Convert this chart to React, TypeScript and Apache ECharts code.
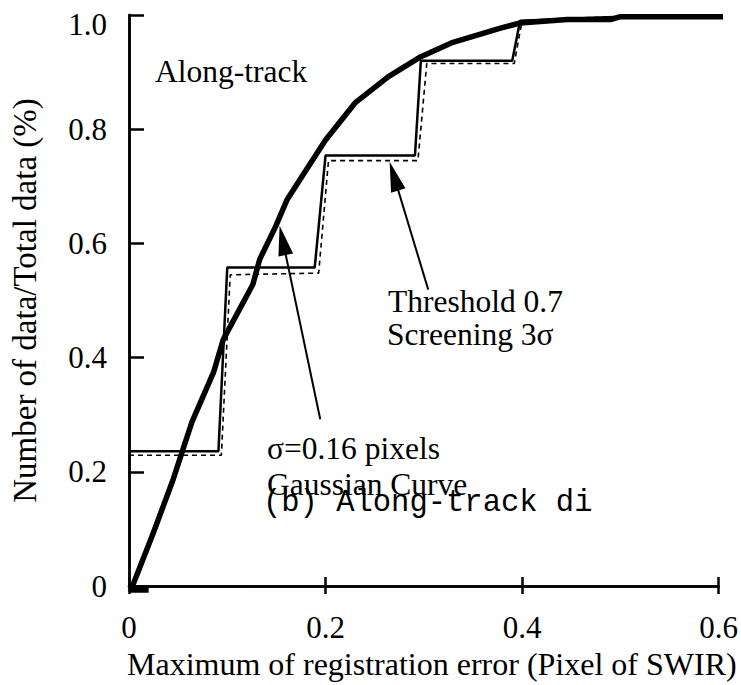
import React, { useEffect, useRef } from "react";
import * as echarts from "echarts";

const xTickLabels = ["0", "0.2", "0.4", "0.6"];
const yTickLabels = ["0", "0.2", "0.4", "0.6", "0.8", "1.0"];

// Thick Gaussian curve
const gaussX = [0.02, 0.002, 0.025, 0.045, 0.064, 0.086, 0.096, 0.126, 0.133, 0.149, 0.161, 0.176, 0.2, 0.23, 0.264, 0.297, 0.328, 0.378, 0.398, 0.446, 0.49, 0.5, 0.613];
const gaussY = [-0.007, -0.007, 0.094, 0.187, 0.287, 0.374, 0.432, 0.528, 0.572, 0.629, 0.677, 0.717, 0.781, 0.846, 0.892, 0.927, 0.951, 0.977, 0.986, 0.992, 0.992, 0.997, 0.997];

// Solid step (Threshold 0.7, Screening 3 sigma)
const stepX = [0, 0.091, 0.1, 0.189, 0.2, 0.291, 0.297, 0.39, 0.398, 0.5, 0.6];
const stepY = [0.236, 0.236, 0.558, 0.558, 0.754, 0.754, 0.92, 0.92, 0.99, 0.997, 0.997];

// Dashed step
const dashX = [0, 0.094, 0.103, 0.193, 0.203, 0.294, 0.303, 0.392, 0.4, 0.49, 0.613];
const dashY = [0.229, 0.229, 0.545, 0.548, 0.745, 0.745, 0.915, 0.915, 0.99, 0.997, 0.997];

// Annotation arrows: [tail, head]
const arrowSigma = [[0.1946, 0.292], [0.1564, 0.6054]];
const arrowThreshold = [[0.3045, 0.519], [0.2696, 0.7178]];

const SERIF = "'Liberation Serif', 'Times New Roman', serif";
const MONO = "'Liberation Mono', 'Courier New', monospace";

const zip = (xs: number[], ys: number[]) => xs.map((x, i) => [x, ys[i]]);

export default function App() {
  const ref = useRef<HTMLDivElement>(null);
  useEffect(() => {
    if (!ref.current) return;
    const chart = echarts.init(ref.current, null, { renderer: "svg" });
    const axisLine = { show: true, lineStyle: { color: "#000", width: 2.5 } };
    chart.setOption({
      animation: false,
      backgroundColor: "#fff",
      grid: { left: 125, right: 21, top: 15, bottom: 98, containLabel: false },
      xAxis: [
        {
          type: "value",
          min: 0,
          max: 0.6,
          interval: 0.2,
          position: "bottom",
          axisLine,
          axisTick: { show: true, inside: true, length: 9, lineStyle: { color: "#000", width: 2.5 } },
          splitLine: { show: false },
          axisLabel: {
            margin: 26,
            color: "#000",
            fontFamily: SERIF,
            fontSize: 31,
            formatter: (_v: number, i: number) => xTickLabels[i],
          },
          name: "Maximum of registration error (Pixel of SWIR)",
          nameLocation: "middle",
          nameGap: 62,
          nameTextStyle: { color: "#000", fontFamily: SERIF, fontSize: 32, padding: [0, 0, 0, 16] },
        },
        {
          type: "value",
          min: 0,
          max: 0.6,
          interval: 0.2,
          position: "top",
          axisLine,
          axisTick: { show: true, inside: true, length: 8, lineStyle: { color: "#000", width: 2.5 } },
          splitLine: { show: false },
          axisLabel: { show: false },
        },
      ],
      yAxis: [
        {
          type: "value",
          min: 0,
          max: 1,
          interval: 0.2,
          position: "left",
          axisLine,
          axisTick: { show: true, inside: true, length: 15, lineStyle: { color: "#000", width: 2.5 } },
          splitLine: { show: false },
          axisLabel: {
            margin: 22,
            color: "#000",
            fontFamily: SERIF,
            fontSize: 31,
            formatter: (_v: number, i: number) =>
              i === yTickLabels.length - 1 ? "{t|" + yTickLabels[i] + "}" : yTickLabels[i],
            rich: { t: { fontFamily: SERIF, fontSize: 31, color: "#000", padding: [18, 0, 0, 0] } },
          },
          name: "Number of data/Total data (%)",
          nameLocation: "middle",
          nameGap: 88,
          nameTextStyle: { color: "#000", fontFamily: SERIF, fontSize: 33 },
        },
        {
          type: "value",
          min: 0,
          max: 1,
          interval: 0.2,
          position: "right",
          axisLine,
          axisTick: { show: false },
          splitLine: { show: false },
          axisLabel: { show: false },
        },
      ],
      series: [
        {
          name: "Screening",
          type: "line",
          data: zip(stepX, stepY),
          showSymbol: false,
          clip: false,
          lineStyle: { color: "#000", width: 2.5 },
          z: 3,
        },
        {
          name: "Dashed",
          type: "line",
          data: zip(dashX, dashY),
          showSymbol: false,
          clip: false,
          lineStyle: { color: "#000", width: 1.6, type: [5, 4] },
          z: 3,
        },
        {
          name: "Gaussian",
          type: "line",
          data: zip(gaussX, gaussY),
          showSymbol: false,
          clip: false,
          lineStyle: { color: "#000", width: 5.5, join: "round" },
          z: 4,
          markLine: {
            silent: true,
            symbol: ["none", "triangle"],
            symbolSize: [15, 30],
            label: { show: false },
            lineStyle: { color: "#000", width: 2, type: "solid" },
            emphasis: { disabled: true },
            data: [
              [{ coord: arrowSigma[0] }, { coord: arrowSigma[1] }],
              [{ coord: arrowThreshold[0] }, { coord: arrowThreshold[1] }],
            ],
          },
        },
      ],
      graphic: [
        { type: "text", x: 155, y: 71, style: { text: "Along-track", font: `31.5px ${SERIF}`, fill: "#000", verticalAlign: "middle" } },
        { type: "text", x: 388, y: 301, style: { text: "Threshold 0.7", font: `31.5px ${SERIF}`, fill: "#000", verticalAlign: "middle" } },
        { type: "text", x: 387, y: 334, style: { text: "Screening 3σ", font: `31.5px ${SERIF}`, fill: "#000", verticalAlign: "middle" } },
        { type: "text", x: 267, y: 448, style: { text: "σ=0.16 pixels", font: `31.5px ${SERIF}`, fill: "#000", verticalAlign: "middle" } },
        { type: "text", x: 267, y: 484, style: { text: "Gaussian Curve", font: `31.5px ${SERIF}`, fill: "#000", verticalAlign: "middle" } },
        { type: "text", x: 263, y: 503, style: { text: "(b) Along-track di", font: `30.5px ${MONO}`, fill: "#000", verticalAlign: "middle" } },
      ],
    });
    return () => chart.dispose();
  }, []);
  return (
    <div
      ref={ref}
      style={{ position: "fixed", left: 0, top: 0, width: 741, height: 685, background: "#fff" }}
    />
  );
}
